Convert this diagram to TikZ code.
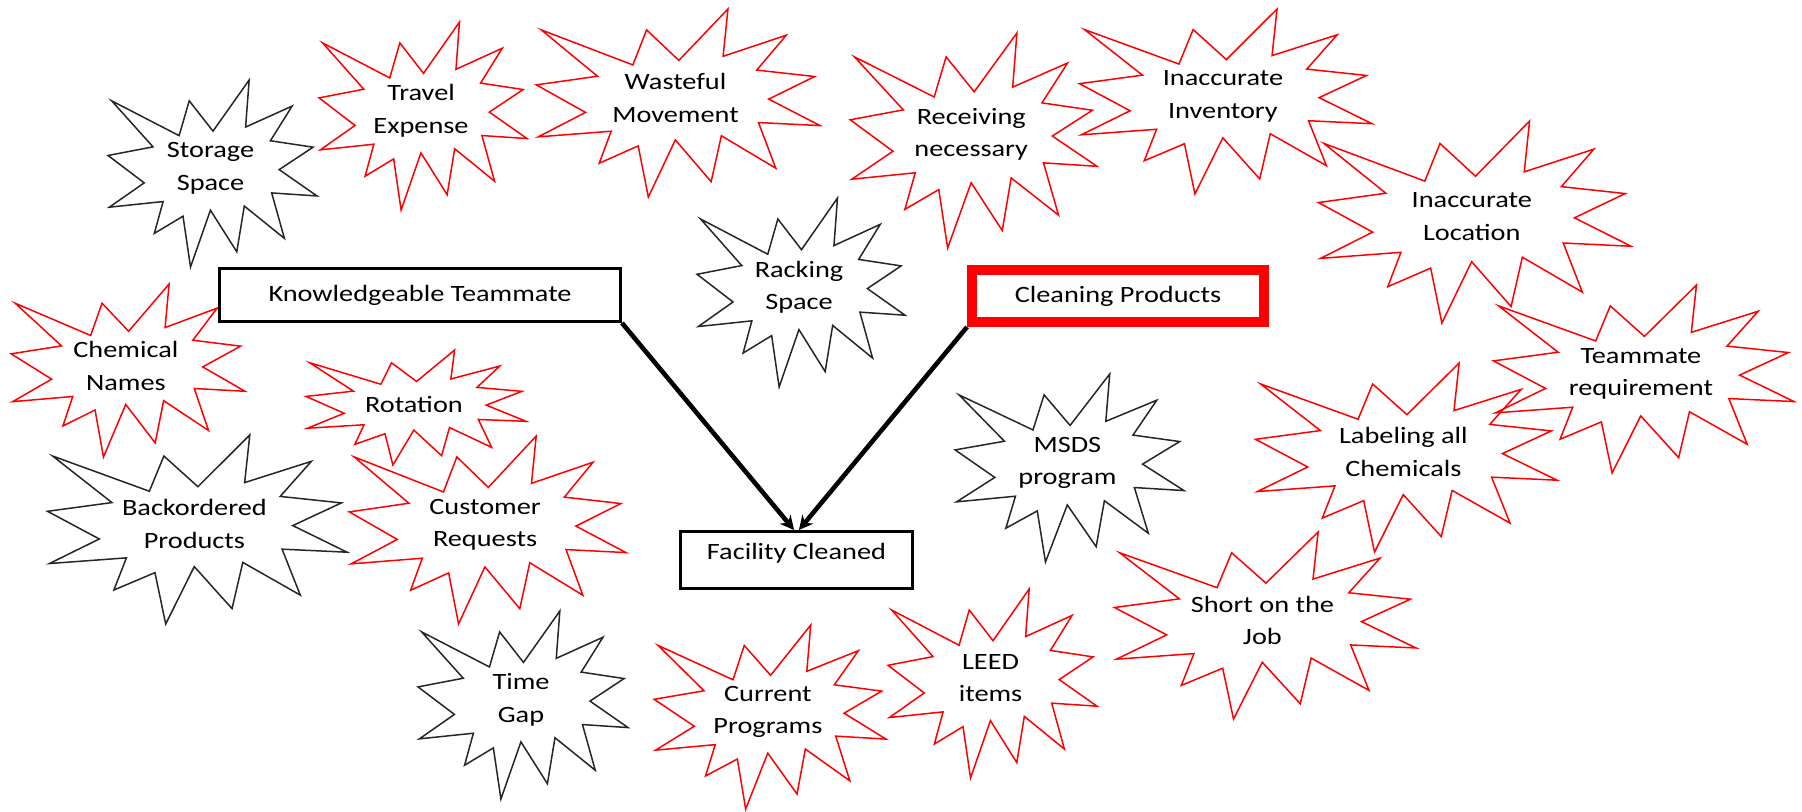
\documentclass[tikz,border=0pt]{standalone}
\usepackage{fontspec}
\setmainfont{Carlito}[FakeStretch=1.21]
\usetikzlibrary{arrows.meta}
\definecolor{redline}{RGB}{255,0,0}
\tikzset{
  redstar/.style={draw=redline, line width=0.75pt},
  blackstar/.style={draw=black!85, line width=0.75pt},
  lbl/.style={align=center, inner sep=0pt, font=\fontsize{11.7}{16.3}\selectfont},
  kbox/.style={draw=black, line width=1.5pt, inner sep=0pt, font=\fontsize{11.7}{16.3}\selectfont},
  cbox/.style={draw=redline, line width=5pt, inner sep=0pt, font=\fontsize{11.7}{16.3}\selectfont},
  arr/.style={line width=2.3pt, -{Stealth[length=7pt,width=7pt]}}
}
\newcommand{\boom}[7]{%
  \begin{scope}[shift={(#2,#3)},xscale=#4/100,yscale=#5/100]
    \path[#6] (50.47,27.34) -- (39.16,11.11) -- (34.34,29.75) -- (2.20,11.11) -- (21.91,35.75) -- (0.49,40.36) -- (17.72,55.00) -- (1.13,68.00) -- (26.72,65.00) -- (22.54,82.03) -- (36.20,72.82) -- (39.77,100) -- (49.25,69.62) -- (61.80,91.85) -- (65.39,67.41) -- (84.48,84.69) -- (78.42,60.39) -- (100,62.00) -- (81.99,47.92) -- (98.14,35.92) -- (77.81,32.49) -- (88.15,13.94) -- (66.00,25.17) -- (67.70,0) -- cycle;
  \end{scope}
  \node[lbl] (#1) at ({#2+0.493*#4},{#3+0.472*#5}) {#7};
}
\begin{document}
\begin{tikzpicture}[x=0.5pt,y=-0.5pt]
\useasboundingbox (0,0) rectangle (1802,811);
\boom{storage}{107}{80}{210}{187}{blackstar}{Storage\\Space}
\boom{travel}{318}{22}{209}{188}{redstar}{Travel\\Expense}
\boom{wasteful}{535}{9}{285}{188}{redstar}{Wasteful\\Movement}
\boom{receiving}{849}{33}{248}{215}{redstar}{Receiving\\necessary}
\boom{inventory}{1078}{9}{294}{185}{redstar}{Inaccurate\\Inventory}
\boom{location}{1317}{121}{314}{202}{redstar}{Inaccurate\\Location}
\boom{teamreq}{1492}{285}{302}{188}{redstar}{Teammate\\requirement}
\boom{racking}{696}{198}{209}{189}{blackstar}{Racking\\Space}
\boom{chemnames}{10}{284}{235}{173}{redstar}{Chemical\\Names}
\boom{rotation}{305}{350}{221}{115}{redstar}{Rotation}
\boom{backorder}{46}{435}{301}{189}{blackstar}{Backordered\\Products}
\boom{custreq}{348}{436}{278}{188}{redstar}{Customer\\Requests}
\boom{msds}{954}{374}{230}{188}{blackstar}{MSDS\\program}
\boom{labeling}{1254}{363}{303}{189}{redstar}{Labeling all\\Chemicals}
\boom{shortjob}{1113}{532}{303}{187}{redstar}{Short on the\\Job}
\boom{timegap}{417}{611}{211}{188}{blackstar}{Time\\Gap}
\boom{current}{653}{625}{233}{184}{redstar}{Current\\Programs}
\boom{leed}{887}{589}{210}{189}{redstar}{LEED\\items}

\node[kbox, minimum width=200.5pt, minimum height=26.5pt] (kt) at (420,295) {Knowledgeable Teammate};
\node[cbox, minimum width=146pt, minimum height=26pt] (cp) at (1118,296) {Cleaning Products};
\node[kbox, minimum width=116pt, minimum height=28.5pt] (fac) at (796.5,560) {};
\node[lbl] (factxt) at (796.5,553) {Facility Cleaned};

\draw[arr] (kt.south east) -- ([xshift=-1.2pt]fac.north);
\draw[arr] (cp.south west) -- ([xshift=1.2pt]fac.north);
\end{tikzpicture}
\end{document}
